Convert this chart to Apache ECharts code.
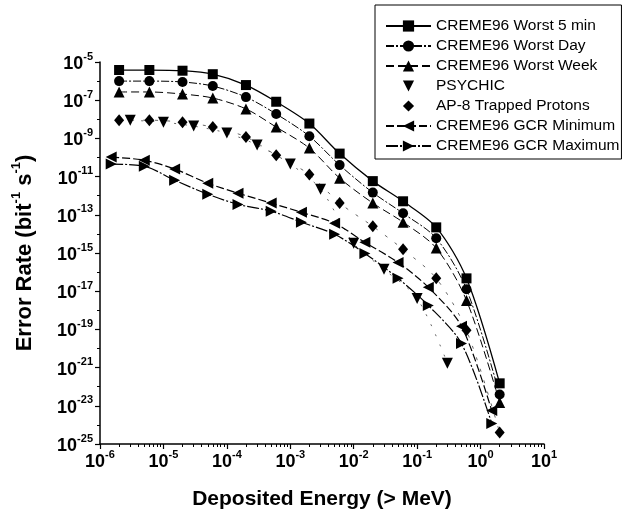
<!DOCTYPE html>
<html>
<head>
<meta charset="utf-8">
<script src="https://cdn.jsdelivr.net/npm/echarts@6/dist/echarts.min.js"></script>
<style>
html, body { margin: 0; padding: 0; background: #fff; }
#chart { width: 627px; height: 522px; }
</style>
</head>
<body>
<div id="chart"></div>
<script>
var FONT = '"Liberation Sans", Arial, sans-serif';

// energies (MeV) of the plotted points
var energyA = [2e-6, 6e-6, 2e-5, 6e-5, 2e-4, 6e-4, 2e-3, 6e-3, 2e-2, 6e-2, 2e-1, 6e-1, 2];
var energyP = [3e-6, 1e-5, 3e-5, 1e-4, 3e-4, 1e-3, 3e-3, 1e-2, 3e-2, 1e-1, 3e-1];
var energyG = [1.5e-6, 5e-6, 1.5e-5, 5e-5, 1.5e-4, 5e-4, 1.5e-3, 5e-3, 1.5e-2, 5e-2, 1.5e-1, 5e-1, 1.5];

// error rates (bit^-1 s^-1)
var worst5min = [3.8e-6, 3.8e-6, 3.5e-6, 2.3e-6, 6.2e-7, 8.3e-8, 6.0e-9, 1.6e-10, 5.8e-12, 5.1e-13, 2.2e-14, 4.7e-17, 1.5e-22];
var worstDay = [1.0e-6, 1.0e-6, 9e-7, 5.5e-7, 1.45e-7, 1.9e-8, 1.3e-9, 4e-11, 1.45e-12, 1.2e-13, 5.9e-15, 1.26e-17, 3.9e-23];
var worstWeek = [2.7e-7, 2.7e-7, 2.1e-7, 1.3e-7, 3.5e-8, 3.9e-9, 3.1e-10, 8.3e-12, 4.1e-13, 4.1e-14, 1.8e-15, 3.3e-18, 1.5e-23];
var psychic = [9e-9, 7e-9, 4.4e-9, 1.9e-9, 4.5e-10, 4.5e-11, 2.2e-12, 3.2e-15, 1.4e-16, 4.2e-18, 1.7e-21];
var ap8 = [9e-9, 9e-9, 7e-9, 3.9e-9, 1.2e-9, 1.3e-10, 1.3e-11, 4.1e-13, 2.5e-14, 1.55e-15, 4.7e-17, 8.9e-20, 4e-25];
var gcrMin = [1.05e-10, 7.2e-11, 2.5e-11, 4.5e-12, 1.35e-12, 4.1e-13, 1.35e-13, 3.6e-14, 3.6e-15, 3.2e-16, 1.6e-17, 1.45e-19, 5.6e-24];
var gcrMax = [4.5e-11, 3.5e-11, 6.5e-12, 1.2e-12, 3.5e-13, 1.55e-13, 4.1e-14, 9.5e-15, 9.5e-16, 4.7e-17, 1.8e-18, 1.8e-20, 1.2e-24];

// tick positions
var xTicks = [1e-6, 1e-5, 1e-4, 1e-3, 1e-2, 1e-1, 1, 10];
var yTicks = [1e-25, 1e-23, 1e-21, 1e-19, 1e-17, 1e-15, 1e-13, 1e-11, 1e-9, 1e-7, 1e-5];
var yDecades = [1e-24, 1e-22, 1e-20, 1e-18, 1e-16, 1e-14, 1e-12, 1e-10, 1e-8, 1e-6];
var xMinor = [];
xTicks.slice(0, -1).forEach(function(d) {
  for (var k = 2; k <= 9; k++) xMinor.push(d * k);
});

function pairs(xs, ys) {
  return xs.map(function(x, i) { return [x, ys[i]]; });
}

var supRich = {
  b: { fontSize: 18, fontWeight: 'bold', fontFamily: FONT, color: '#000', lineHeight: 22, verticalAlign: 'bottom' },
  s: { fontSize: 11, fontWeight: 'bold', fontFamily: FONT, color: '#000', lineHeight: 12, verticalAlign: 'top' }
};
function powLabel(v) {
  var e = Math.round(Math.log(v) / Math.LN10);
  return '{b|10}{s|' + e + '}';
}

var downTri = 'path://M0,0L10,0L5,9Z';
var leftTri = 'path://M9,0L9,10L0,5Z';
var rightTri = 'path://M0,0L0,10L9,5Z';

function line(name, xs, ys, symbol, size, dash, width, color) {
  return {
    name: name,
    type: 'line',
    data: pairs(xs, ys),
    smooth: 0.3,
    symbol: symbol,
    symbolSize: size,
    itemStyle: { color: '#000' },
    lineStyle: { color: color || '#000', width: width, type: dash },
    emphasis: { disabled: true }
  };
}

var chart = echarts.init(document.getElementById('chart'));
chart.setOption({
  animation: false,
  backgroundColor: '#fff',
  grid: { left: 100, right: 83, top: 62, bottom: 78 },
  legend: {
    orient: 'vertical',
    left: 375,
    top: 5,
    itemWidth: 45,
    itemHeight: 14,
    itemGap: 4,
    padding: [13, 2, 5, 10],
    borderColor: '#000',
    borderWidth: 1,
    textStyle: { fontFamily: FONT, fontSize: 15.5, lineHeight: 16, color: '#000' },
    data: [
      { name: 'CREME96 Worst 5 min' },
      { name: 'CREME96 Worst Day' },
      { name: 'CREME96 Worst Week' },
      { name: 'PSYCHIC', lineStyle: { opacity: 0 } },
      { name: 'AP-8 Trapped Protons', lineStyle: { opacity: 0 } },
      { name: 'CREME96 GCR Minimum' },
      { name: 'CREME96 GCR Maximum' }
    ]
  },
  xAxis: [{
    type: 'log',
    min: 1e-6,
    max: 10,
    name: 'Deposited Energy (> MeV)',
    nameLocation: 'middle',
    nameGap: 45,
    nameTextStyle: { fontFamily: FONT, fontSize: 21, fontWeight: 'bold', color: '#000' },
    axisLine: { lineStyle: { color: '#000', width: 1.5 } },
    axisTick: { customValues: xTicks, length: 5, lineStyle: { color: '#000', width: 1.2 } },
    axisLabel: { customValues: xTicks, margin: 5, formatter: powLabel, rich: supRich },
    splitLine: { show: false }
  }, {
    type: 'log',
    min: 1e-6,
    max: 10,
    position: 'bottom',
    axisLine: { show: false },
    axisTick: { show: true, customValues: xMinor, length: 3, lineStyle: { color: '#000', width: 1 } },
    axisLabel: { show: false },
    splitLine: { show: false }
  }],
  yAxis: [{
    type: 'log',
    min: 1e-25,
    max: 1e-5,
    name: '{t|Error Rate (bit}{u|-1}{t| s}{u|-1}{t|)}',
    nameLocation: 'middle',
    nameGap: 64,
    nameTextStyle: {
      rich: {
        t: { fontFamily: FONT, fontSize: 22, fontWeight: 'bold', color: '#000', lineHeight: 26, verticalAlign: 'bottom' },
        u: { fontFamily: FONT, fontSize: 13, fontWeight: 'bold', color: '#000', lineHeight: 14, verticalAlign: 'top' }
      }
    },
    axisLine: { show: true, lineStyle: { color: '#000', width: 1.5 } },
    axisTick: { show: true, customValues: yTicks, length: 5, lineStyle: { color: '#000', width: 1.2 } },
    axisLabel: { customValues: yTicks, margin: 7, formatter: powLabel, rich: supRich },
    splitLine: { show: false }
  }, {
    type: 'log',
    min: 1e-25,
    max: 1e-5,
    position: 'left',
    axisLine: { show: false },
    axisTick: { show: true, customValues: yDecades, length: 3, lineStyle: { color: '#000', width: 1 } },
    axisLabel: { show: false },
    splitLine: { show: false }
  }],
  series: [
    line('CREME96 Worst 5 min', energyA, worst5min, 'rect', 10, 'solid', 1.3),
    line('CREME96 Worst Day', energyA, worstDay, 'circle', 10, [8, 2, 2, 2], 1),
    line('CREME96 Worst Week', energyA, worstWeek, 'triangle', 11, [8, 4], 1),
    line('PSYCHIC', energyP, psychic, downTri, 11, [2, 9], 1, '#666'),
    line('AP-8 Trapped Protons', energyA, ap8, 'diamond', [10, 12], [3, 9], 1, '#666'),
    line('CREME96 GCR Minimum', energyG, gcrMin, leftTri, 11, [8, 3], 1.2),
    line('CREME96 GCR Maximum', energyG, gcrMax, rightTri, 11, [12, 2, 2, 2], 1.2)
  ]
});
</script>
</body>
</html>
